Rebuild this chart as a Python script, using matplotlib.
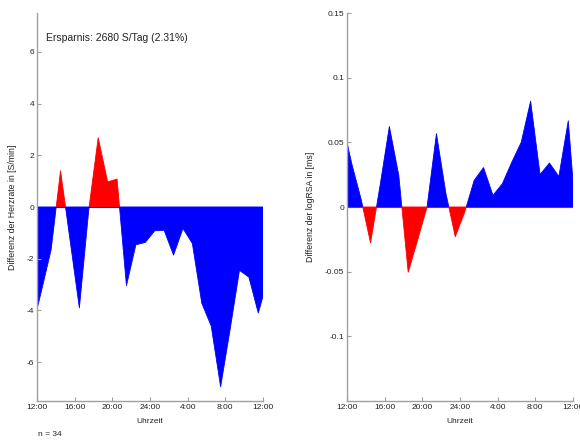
import matplotlib
matplotlib.use("Agg")
import matplotlib.pyplot as plt
import numpy as np

plt.rcParams['font.family'] = ['Liberation Sans', 'DejaVu Sans']

# Hours after 12:00 (noon) at which the differences were evaluated
hours = [0, 0.5, 1.5, 2.5, 3.5, 4.5, 5.5, 6.5, 7.5, 8.5, 9.5, 10.5, 11.5,
         12.5, 13.5, 14.5, 15.5, 16.5, 17.5, 18.5, 19.5, 20.5, 21.5, 22.5,
         23.5, 24]

# Difference in heart rate [S/min]
hr_diff = [-3.96, -3.2, -1.65, 1.40, -1.25, -3.9, -0.1, 2.68, 0.97, 1.08,
           -3.04, -1.46, -1.37, -0.92, -0.90, -1.86, -0.83, -1.41, -3.72,
           -4.6, -6.95, -4.75, -2.45, -2.71, -4.1, -3.45]

# Difference in logRSA [ms]
rsa_diff = [0.050, 0.0336, 0.006, -0.0277, 0.016, 0.0623, 0.0244, -0.0505,
            -0.0256, 0.0, 0.0567, 0.0106, -0.023, -0.004, 0.0205, 0.0305,
            0.009, 0.018, 0.0346, 0.050, 0.0818, 0.0251, 0.034, 0.0236,
            0.0667, 0.02]

xtick_pos = [0, 4, 8, 12, 16, 20, 24]
xtick_labels = ['12:00', '16:00', '20:00', '24:00', '4:00', '8:00', '12:00']

hr_ticks = [-6, -4, -2, 0, 2, 4, 6]
rsa_ticks = [-0.1, -0.05, 0, 0.05, 0.1, 0.15]
rsa_tick_labels = ['-0.1', '-0.05', '0', '0.05', '0.1', '0.15']

savings_text = 'Ersparnis: 2680 S/Tag (2.31%)'
n_text = 'n = 34'

BLUE = '#0000ff'
RED = '#ff0000'
AXIS_GREY = '#a0a0a0'
TEXT = '#222222'

fig = plt.figure(figsize=(5.8, 4.41), dpi=100, facecolor='white')
ax1 = fig.add_axes([37 / 580, 40 / 441, 226 / 580, 388 / 441])
ax2 = fig.add_axes([347 / 580, 40 / 441, 226 / 580, 388 / 441])


def signed_area(ax, x, y, pos_color, neg_color):
    x = np.asarray(x, dtype=float)
    y = np.asarray(y, dtype=float)
    ax.fill_between(x, y, 0, where=y >= 0, interpolate=True,
                    facecolor=pos_color, edgecolor=pos_color, linewidth=0.6)
    ax.fill_between(x, y, 0, where=y <= 0, interpolate=True,
                    facecolor=neg_color, edgecolor=neg_color, linewidth=0.6)
    ax.plot([x[0], x[-1]], [0, 0], color=neg_color, linewidth=0.8)


def style_axes(ax):
    for side in ('top', 'right'):
        ax.spines[side].set_visible(False)
    for side in ('left', 'bottom'):
        ax.spines[side].set_color(AXIS_GREY)
        ax.spines[side].set_linewidth(1.0)
    ax.tick_params(direction='in', length=3, width=0.8, color=AXIS_GREY,
                   labelsize=6, labelcolor=TEXT, pad=2)
    ax.set_xlim(0, 24)
    ax.set_xticks(xtick_pos)
    ax.set_xticklabels(xtick_labels)
    ax.set_xlabel('Uhrzeit', fontsize=6, color=TEXT)
    ax.xaxis.set_label_coords(0.5, -0.043)
    ax.set_facecolor('white')


# Heart-rate panel: increases red, reductions blue
signed_area(ax1, hours, hr_diff, RED, BLUE)
style_axes(ax1)
ax1.set_ylim(-7.5, 7.5)
ax1.set_yticks(hr_ticks)
ax1.set_yticklabels([str(t) for t in hr_ticks])
ax1.set_ylabel('Differenz der Herzrate in [S/min]', fontsize=6.3, color=TEXT)
ax1.yaxis.set_label_coords(-0.088, 0.5)
ax1.text(0.04, 0.936, savings_text, transform=ax1.transAxes, fontsize=7.5,
         color=TEXT, ha='left', va='center')

# logRSA panel: increases blue, reductions red
signed_area(ax2, hours, rsa_diff, BLUE, RED)
style_axes(ax2)
ax2.set_ylim(-0.15, 0.15)
ax2.set_yticks(rsa_ticks)
ax2.set_yticklabels(rsa_tick_labels)
ax2.set_ylabel('Differenz der logRSA in [ms]', fontsize=6.3, color=TEXT)
ax2.yaxis.set_label_coords(-0.142, 0.5)

fig.text(37.7 / 580, 1 - 435 / 441, n_text, fontsize=6, color=TEXT,
         ha='left', va='center')

fig.savefig('out.png', dpi=100, facecolor='white')
